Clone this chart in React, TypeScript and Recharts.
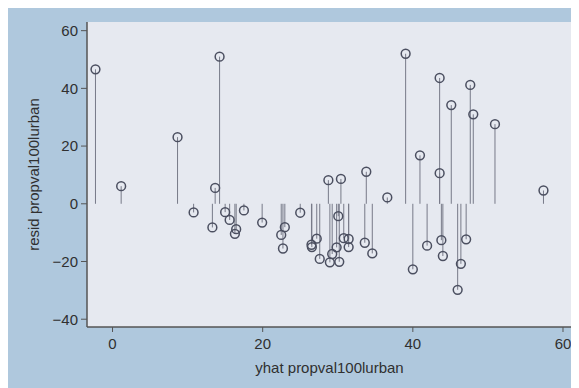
import React from 'react';
import { ComposedChart, Scatter, XAxis, YAxis, CartesianGrid, ReferenceLine, Label } from 'recharts';

const yhat = [
  -2.27, 1.15, 8.66, 10.8, 13.3, 13.67, 14.26, 15.0, 15.6, 16.47, 16.3, 17.5, 19.93,
  22.47, 22.7, 22.95, 25.0, 26.5, 26.55, 27.2, 27.6, 28.75, 28.95, 29.26, 29.85, 30.07,
  30.2, 30.42, 30.8, 31.45, 31.45, 33.6, 33.8, 34.6, 36.6, 39.04, 40.0, 40.95, 41.9,
  43.57, 43.57, 43.8, 44.0, 45.12, 45.97, 46.4, 47.1, 47.65, 48.05, 50.94, 57.4,
];
const resid = [
  46.6, 6.1, 23.1, -3.0, -8.2, 5.5, 51.0, -2.9, -5.6, -8.8, -10.4, -2.3, -6.5,
  -10.8, -15.5, -8.1, -3.1, -14.2, -15.0, -12.1, -19.1, 8.2, -20.3, -17.4, -15.1, -4.3,
  -20.1, 8.6, -11.9, -12.2, -15.0, -13.5, 11.1, -17.2, 2.2, 52.0, -22.7, 16.8, -14.5,
  43.6, 10.6, -12.6, -18.1, 34.2, -29.8, -20.8, -12.3, 41.2, 31.0, 27.6, 4.6,
];
const xTicks = [0, 20, 40, 60];
const yTicks = [-40, -20, 0, 20, 40, 60];

const data = yhat.map((x, i) => ({ x, y: resid[i] }));

const fmt = (v: number) => String(v).replace('-', '\u2212');

const Marker = (props: any) => {
  const { cx, cy } = props;
  if (cx == null || cy == null) return null;
  return <circle cx={cx} cy={cy} r={4.4} fill="none" stroke="#4b4f60" strokeWidth={1.5} />;
};

const font = 'Liberation Sans, Arial, sans-serif';
const textColor = '#303030';

export default function App() {
  return (
    <div style={{ width: 571, height: 380, background: '#afc8dd', fontFamily: font }}>
      <ComposedChart width={571} height={380} data={data} margin={{ top: 14, right: 7, bottom: 0, left: 0 }}>
        <CartesianGrid fill="#e6e9f0" stroke="none" horizontal={false} vertical={false} />
        <XAxis
          type="number"
          dataKey="x"
          domain={[-3.4, 61.2]}
          allowDataOverflow
          ticks={xTicks}
          tickFormatter={fmt}
          height={61}
          tickSize={5}
          tickMargin={6}
          stroke="#555"
          strokeWidth={1.5}
          tick={{ fill: textColor, fontSize: 15, fontFamily: font }}
          tickLine={{ stroke: '#555', strokeWidth: 1 }}
        >
          <Label
            value="yhat propval100lurban"
            position="insideBottom"
            offset={15}
            style={{ fill: textColor, fontSize: 15, fontFamily: font }}
          />
        </XAxis>
        <YAxis
          type="number"
          dataKey="y"
          domain={[-42.7, 63]}
          allowDataOverflow
          ticks={yTicks}
          tickFormatter={fmt}
          width={79}
          tickSize={6}
          tickMargin={3}
          stroke="#555"
          strokeWidth={1.5}
          tick={{ fill: textColor, fontSize: 15, fontFamily: font }}
          tickLine={{ stroke: '#555', strokeWidth: 1 }}
        >
          <Label
            content={(p: any) => {
              const vb = p.viewBox || {};
              const cx = (vb.x || 0) + 25;
              const cy = (vb.y || 0) + (vb.height || 0) / 2;
              return (
                <text
                  x={cx}
                  y={cy}
                  transform={`rotate(-90, ${cx}, ${cy})`}
                  textAnchor="middle"
                  dominantBaseline="central"
                  fill={textColor}
                  fontSize={15}
                  fontFamily={font}
                >
                  resid propval100lurban
                </text>
              );
            }}
          />
        </YAxis>
        {data.map((d, i) => (
          <ReferenceLine
            key={i}
            segment={[{ x: d.x, y: 0 }, { x: d.x, y: d.y }]}
            stroke="#777a88"
            strokeWidth={1}
            ifOverflow="visible"
          />
        ))}
        <Scatter data={data} dataKey="y" shape={<Marker />} isAnimationActive={false} />
      </ComposedChart>
    </div>
  );
}
